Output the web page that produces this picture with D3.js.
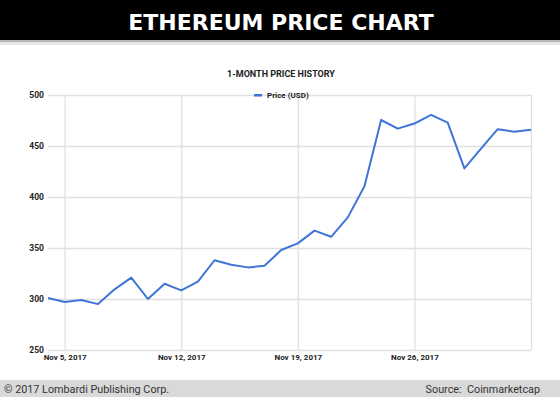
<!DOCTYPE html>
<html>
<head>
<meta charset="utf-8">
<script src="https://cdn.jsdelivr.net/npm/d3@7"></script>
<style>
  body { margin: 0; background: #fff; }
  svg { display: block; }
</style>
</head>
<body>
<div id="chart"></div>
<script>
  // daily closing price, Nov 4 - Dec 3, 2017
  var dates = ["2017-11-04","2017-11-05","2017-11-06","2017-11-07","2017-11-08","2017-11-09",
    "2017-11-10","2017-11-11","2017-11-12","2017-11-13","2017-11-14","2017-11-15","2017-11-16",
    "2017-11-17","2017-11-18","2017-11-19","2017-11-20","2017-11-21","2017-11-22","2017-11-23",
    "2017-11-24","2017-11-25","2017-11-26","2017-11-27","2017-11-28","2017-11-29","2017-11-30",
    "2017-12-01","2017-12-02","2017-12-03"];
  var prices = [301, 297, 299, 295, 309.5, 321, 300, 315, 308.5, 317,
    338, 333.5, 331, 332.5, 348, 354.5, 367, 361, 380, 410.5,
    475.5, 467, 472, 480.5, 473, 428, 447.5, 466.5, 464, 466];
  var yTicks = [250, 300, 350, 400, 450, 500];
  var xTicks = ["2017-11-05", "2017-11-12", "2017-11-19", "2017-11-26", "2017-12-03"];

  var parse = d3.timeParse("%Y-%m-%d");
  var data = dates.map(function(d, i) {
    return { date: parse(d), value: prices[i] };
  });

  var W = 560, H = 397;
  var svg = d3.select("#chart").append("svg")
    .attr("width", W)
    .attr("height", H);

  // header
  svg.append("rect").attr("x", 0).attr("y", 0).attr("width", W).attr("height", 40).attr("fill", "#000");
  svg.append("rect").attr("x", 0).attr("y", 40).attr("width", W).attr("height", 2).attr("fill", "#b5b5b5");
  svg.append("rect").attr("x", 0).attr("y", 42).attr("width", W).attr("height", 3).attr("fill", "#e6e6e6");
  svg.append("text")
    .attr("x", 281).attr("y", 29.5)
    .attr("text-anchor", "middle")
    .attr("fill", "#fff")
    .style("font-family", "'DejaVu Sans', sans-serif")
    .style("font-weight", "bold")
    .style("font-size", "22px")
    .text("ETHEREUM PRICE CHART");

  // footer
  svg.append("rect").attr("x", 0).attr("y", 380).attr("width", W).attr("height", 17).attr("fill", "#d9d9d9");
  svg.append("text")
    .attr("x", 4).attr("y", 393)
    .attr("fill", "#333")
    .style("font-family", "Roboto, sans-serif")
    .style("font-size", "10.8px")
    .text("\u00a9 2017 Lombardi Publishing Corp.");
  svg.append("text")
    .attr("x", 540).attr("y", 393)
    .attr("text-anchor", "end")
    .attr("fill", "#333")
    .style("font-family", "Roboto, sans-serif")
    .style("font-size", "10.8px")
    .style("white-space", "pre")
    .text("Source:  Coinmarketcap");

  // plot area
  var plotLeft = 48, plotRight = 531, plotTop = 95, plotBottom = 350;

  var x = d3.scaleTime()
    .domain([data[0].date, data[data.length - 1].date])
    .range([plotLeft, plotRight]);

  var y = d3.scaleLinear()
    .domain([250, 500])
    .range([plotBottom, plotTop]);

  svg.append("text")
    .attr("x", 281).attr("y", 77)
    .attr("text-anchor", "middle")
    .attr("fill", "#222")
    .style("font-family", "Roboto, sans-serif")
    .style("font-weight", "bold")
    .style("font-size", "9px")
    .text("1-MONTH PRICE HISTORY");

  // Y gridlines + labels
  var yAxis = svg.append("g")
    .attr("transform", "translate(" + plotLeft + ",0)")
    .call(d3.axisLeft(y).tickValues(yTicks).tickSize(-(plotRight - plotLeft)).tickPadding(4));
  yAxis.select(".domain").remove();
  yAxis.selectAll("line").attr("stroke", "#e0e0e0").attr("stroke-width", 1.3);
  yAxis.selectAll("text")
    .attr("fill", "#222")
    .style("font-family", "Roboto, sans-serif")
    .style("font-weight", "bold")
    .style("font-size", "8.5px");

  // X gridlines + labels (last gridline has no label)
  var xAxis = svg.append("g")
    .attr("transform", "translate(0," + plotBottom + ")")
    .call(d3.axisBottom(x)
      .tickValues(xTicks.map(parse))
      .tickSize(-(plotBottom - plotTop))
      .tickPadding(4)
      .tickFormat(function(d, i) {
        return i < xTicks.length - 1 ? d3.timeFormat("%b %-d, %Y")(d) : "";
      }));
  xAxis.select(".domain").remove();
  xAxis.selectAll("line").attr("stroke", "#e0e0e0").attr("stroke-width", 1.3);
  xAxis.selectAll("text")
    .attr("fill", "#222")
    .style("font-family", "Roboto, sans-serif")
    .style("font-weight", "bold")
    .style("font-size", "8px");

  // legend
  svg.append("rect")
    .attr("x", 254).attr("y", 94).attr("width", 8).attr("height", 2.5)
    .attr("fill", "#3f75d6");
  svg.append("text")
    .attr("x", 267).attr("y", 98)
    .attr("fill", "#222")
    .style("font-family", "Roboto, sans-serif")
    .style("font-weight", "bold")
    .style("font-size", "8px")
    .text("Price (USD)");

  // price line
  var line = d3.line()
    .x(function(d) { return x(d.date); })
    .y(function(d) { return y(d.value); });

  svg.append("path")
    .datum(data)
    .attr("fill", "none")
    .attr("stroke", "#3f75d6")
    .attr("stroke-width", 2)
    .attr("stroke-linejoin", "round")
    .attr("d", line);
</script>
</body>
</html>
